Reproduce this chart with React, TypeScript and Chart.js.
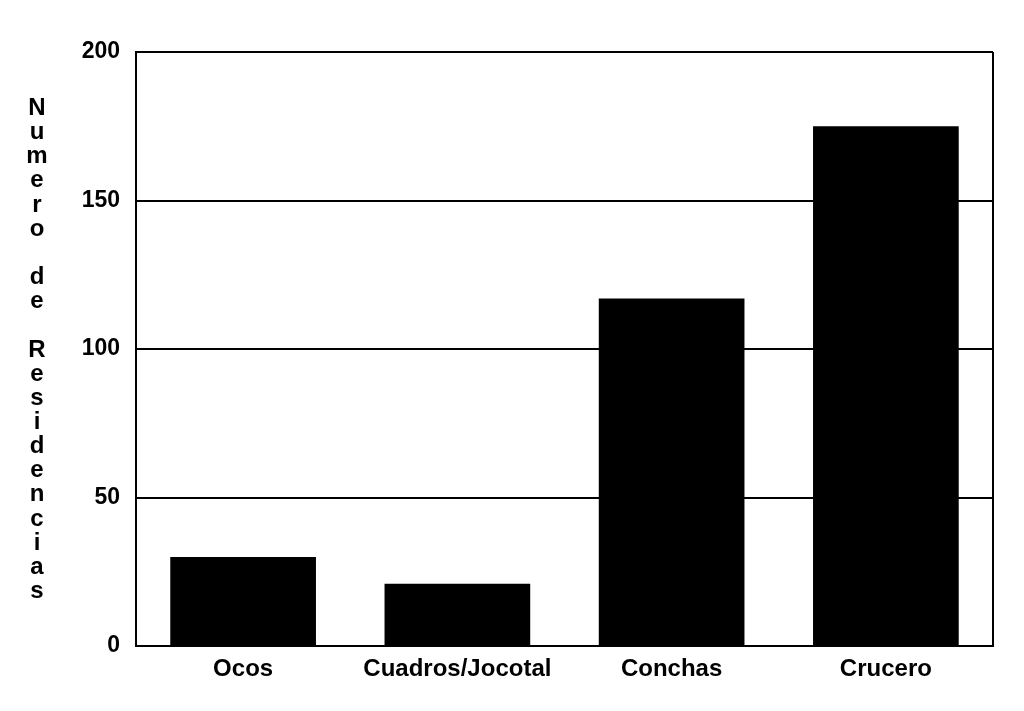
import React, { useEffect, useRef } from "react";
import { Chart, registerables } from "chart.js";

Chart.register(...registerables);

const categories = ["Ocos", "Cuadros/Jocotal", "Conchas", "Crucero"];
const residencias = [30, 21, 117, 175];
const yTicks = [0, 50, 100, 150, 200];
const yTitle = "Numero de Residencias";

const FONT = "'Liberation Sans', Arial, sans-serif";

const frameAndTitle = {
  id: "frameAndTitle",
  afterDraw(chart: any) {
    const { ctx, chartArea } = chart;
    ctx.save();
    ctx.strokeStyle = "#000";
    ctx.lineWidth = 2;
    ctx.beginPath();
    ctx.moveTo(chartArea.right, chartArea.top);
    ctx.lineTo(chartArea.right, chartArea.bottom);
    ctx.stroke();
    ctx.fillStyle = "#000";
    ctx.font = `bold 24px ${FONT}`;
    ctx.textAlign = "center";
    ctx.textBaseline = "alphabetic";
    const chars = yTitle.split("");
    chars.forEach((c, i) => {
      if (c !== " ") ctx.fillText(c, 37, 115 + i * 24.15);
    });
    ctx.restore();
  },
};

export default function App() {
  const ref = useRef<HTMLCanvasElement | null>(null);
  useEffect(() => {
    if (!ref.current) return;
    const chart = new Chart(ref.current, {
      type: "bar",
      data: {
        labels: categories,
        datasets: [
          {
            data: residencias,
            backgroundColor: "#000",
            borderWidth: 0,
            categoryPercentage: 1,
            barPercentage: 0.68,
          },
        ],
      },
      options: {
        animation: false,
        responsive: false,
        layout: { padding: { left: 0, right: 31, top: 52, bottom: 0 } },
        plugins: { legend: { display: false }, tooltip: { enabled: false } },
        scales: {
          x: {
            grid: { display: false, drawTicks: false },
            border: { display: true, color: "#000", width: 2 },
            ticks: {
              color: "#000",
              font: { family: FONT, size: 24, weight: "bold" },
              padding: 9,
              maxRotation: 0,
            },
            afterFit(scale: any) {
              scale.height = 65;
            },
          },
          y: {
            min: 0,
            max: 200,
            afterBuildTicks(scale: any) {
              scale.ticks = yTicks.map((v) => ({ value: v }));
            },
            grid: { color: "#000", lineWidth: 2, drawTicks: false },
            border: { display: true, color: "#000", width: 2 },
            ticks: {
              color: "#000",
              font: { family: FONT, size: 23, weight: "bold" },
              padding: 16,
            },
            afterFit(scale: any) {
              scale.width = 136;
            },
          },
        },
      },
      plugins: [frameAndTitle],
    });
    return () => chart.destroy();
  }, []);
  return (
    <div style={{ position: "absolute", left: 0, top: 0, width: 1024, height: 711, background: "#fff" }}>
      <canvas ref={ref} width={1024} height={711} style={{ display: "block" }} />
    </div>
  );
}
